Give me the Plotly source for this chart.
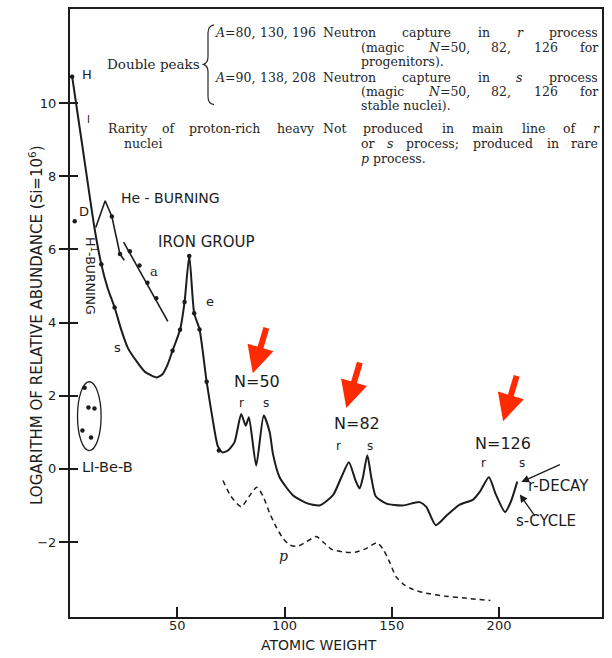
import re
import plotly.graph_objects as go

# ---- abundance data: log10 relative abundance (Si = 1e6) vs atomic weight A ----
main_a = [1.0, 6.0, 11.4, 14.6, 17.5, 20.8, 23.9, 27.0, 30.9, 35.0, 40.2, 43.0, 45.5,
          47.8, 51.3, 53.4, 55.6, 57.9, 60.4, 63.7, 66.6, 68.9, 71.0, 73.6, 76.7,
          79.8, 81.9, 83.4, 86.8, 90.3, 93.1, 94.6, 97.7, 103.9, 110.0, 116.4,
          122.6, 126.5, 130.0, 133.0, 135.0, 136.5, 138.6, 140.5, 142.5, 147.5,
          155.0, 163.0, 166.1, 170.5, 176.0, 181.7, 187.9, 191.0, 195.3, 198.5,
          202.8, 205.5, 208.5]
main_log = [10.72, 8.73, 6.59, 5.59, 4.95, 4.41, 3.80, 3.30, 2.95, 2.65, 2.50, 2.58, 2.85,
            3.23, 3.80, 4.56, 5.82, 4.25, 3.81, 2.38, 1.32, 0.62, 0.45, 0.50, 0.73,
            1.50, 1.18, 1.41, 0.09, 1.46, 1.00, 0.41, -0.23, -0.72, -0.93, -1.00,
            -0.72, -0.23, 0.18, -0.30, -0.54, -0.25, 0.37, -0.25, -0.75, -0.95,
            -1.00, -0.91, -1.04, -1.54, -1.25, -0.98, -0.84, -0.63, -0.23, -0.70,
            -1.18, -0.90, -0.35]

# measured points lying on the main curve
main_pts_a = [1.0, 14.6, 20.8, 47.8, 51.3, 53.4, 55.6, 57.9, 60.4, 63.7, 69.4]
main_pts_log = [10.72, 5.59, 4.41, 3.23, 3.80, 4.56, 5.82, 4.25, 3.81, 2.38, 0.50]

# deuterium
d_a = [2.2]
d_log = [6.77]

# helium-burning branch
he_a = [12.0, 16.4, 19.5, 23.3, 25.3]
he_log = [6.60, 7.33, 6.90, 5.87, 5.70]
he_pts_a = [19.5, 23.3]
he_pts_log = [6.90, 5.87]

# alpha-nuclei line and points
alpha_a = [25.0, 45.6]
alpha_log = [6.20, 4.03]
alpha_pts_a = [27.9, 32.4, 36.1, 40.2]
alpha_pts_log = [5.95, 5.56, 5.09, 4.66]

# proton-rich (p process) curve
p_a = [71.3, 75.0, 79.8, 83.5, 87.1, 90.0, 93.0, 96.2, 99.5, 102.4, 106.0, 110.0,
       114.8, 118.0, 122.0, 127.0, 133.0, 138.0, 143.2, 146.0, 149.0, 152.0,
       156.0, 160.0, 166.0, 175.0, 185.0, 196.0]
p_log = [-0.32, -0.75, -1.04, -0.75, -0.50, -0.75, -1.20, -1.60, -1.92, -2.08, -2.12,
         -2.00, -1.85, -2.00, -2.20, -2.27, -2.28, -2.18, -2.02, -2.20, -2.55, -2.95,
         -3.18, -3.30, -3.40, -3.48, -3.54, -3.60]

# Li, Be, B
libeb_a = [6.8, 8.6, 11.4, 5.8, 9.8]
libeb_log = [2.22, 1.68, 1.65, 1.05, 0.86]

x_ticks = [50, 100, 150, 200]
y_ticks = [-2, 0, 2, 4, 6, 8, 10]

# ---- page geometry ----
W, H = 612, 658
ML, MR, MT, MB = 70, 10, 7, 41
X_RANGE = [0, 248]
Y_RANGE = [-4.05, 12.57]
INK = "#1c1c1c"
SANS = "DejaVu Sans"
SERIF = "DejaVu Serif"


def px(x):
    return (x - ML) / (W - ML - MR)


def py(y):
    return (H - MB - y) / (H - MT - MB)


fig = go.Figure()

fig.add_trace(go.Scatter(x=main_a, y=main_log, mode="lines",
                         line=dict(color=INK, width=2, shape="spline", smoothing=0.6)))
fig.add_trace(go.Scatter(x=he_a, y=he_log, mode="lines", line=dict(color=INK, width=1.6)))
fig.add_trace(go.Scatter(x=alpha_a, y=alpha_log, mode="lines", line=dict(color=INK, width=1.6)))
fig.add_trace(go.Scatter(x=p_a, y=p_log, mode="lines",
                         line=dict(color=INK, width=1.5, dash="5px,4px", shape="spline", smoothing=0.6)))
dot = dict(color=INK, size=4.5)
for xs, ys in [(main_pts_a, main_pts_log), (d_a, d_log), (he_pts_a, he_pts_log),
               (alpha_pts_a, alpha_pts_log), (libeb_a, libeb_log)]:
    fig.add_trace(go.Scatter(x=xs, y=ys, mode="markers", marker=dot))
fig.add_trace(go.Scatter(x=[None], y=[None], yaxis="y2", showlegend=False))

# ellipse around the Li-Be-B points
fig.add_shape(type="circle", xref="x", yref="y",
              x0=min(libeb_a) - 2.3, x1=max(libeb_a) + 3.1,
              y0=min(libeb_log) - 0.36, y1=max(libeb_log) + 0.16,
              line=dict(color=INK, width=1.3))

ann = []


def label(text, x, y, size=14, font=SANS, angle=0, xanchor="center", color=INK):
    ann.append(dict(text=text, x=px(x), y=py(y), xref="paper", yref="paper",
                    showarrow=False, textangle=angle, xanchor=xanchor, yanchor="middle",
                    font=dict(family=font, size=size, color=color)))


# in-plot lettering
label("H", 87, 73, 13)
label("I", 88, 118, 10)
label("D", 84, 210, 13)
label("He - BURNING", 170, 197, 14)
label("IRON GROUP", 206, 241, 15)
label("H<sup>1</sup>-BURNING", 91, 275, 12.5, angle=90)
label("a", 154, 270, 13, font=SERIF)
label("e", 210, 300, 13)
label("s", 117, 347, 13)
label("LI-Be-B", 80, 467, 14.5, xanchor="left")
label("N=50", 257, 381, 16)
label("r", 241, 402, 12)
label("s", 266, 402, 12)
label("N=82", 357, 423, 16)
label("r", 338, 445, 12)
label("s", 370, 445, 12)
label("N=126", 503, 443, 16)
label("r", 483, 462, 12)
label("s", 522, 462, 12)
label("r-DECAY", 526, 486, 15, xanchor="left")
label("s-CYCLE", 514, 521, 15, xanchor="left")
label("<i>p</i>", 283, 556, 14, font=SERIF)

# axis titles
label("LOGARITHM OF RELATIVE ABUNDANCE (Si=10<sup>6</sup>)", 36, 324, 15, angle=-90)
label("ATOMIC WEIGHT", 319, 645, 14)

# ---- explanatory text block (justified columns) ----
SERIF_W = {
    "a": .596, "b": .640, "c": .560, "d": .640, "e": .592, "f": .370, "g": .640,
    "h": .644, "i": .320, "j": .310, "k": .600, "l": .320, "m": .948, "n": .644,
    "o": .602, "p": .640, "q": .640, "r": .478, "s": .513, "t": .402, "u": .644,
    "v": .565, "w": .856, "x": .564, "y": .565, "z": .527, "A": .722, "D": .771,
    "N": .782, "R": .712, "S": .648, ",": .318, ".": .318, "(": .390, ")": .390,
    "=": .838, " ": .318, "-": .338, ";": .337,
}
TSIZE = 12.5
TCOLOR = "#262626"


def text_w(s, size):
    s = re.sub(r"<[^>]+>", "", s)
    return sum(SERIF_W.get(ch, .636) for ch in s) * size * 1.03


def serif_word(text, x, y, size=TSIZE):
    ann.append(dict(text=text, x=px(x), y=py(y), xref="paper", yref="paper",
                    showarrow=False, xanchor="left", yanchor="middle", borderpad=0,
                    font=dict(family=SERIF, size=size, color=TCOLOR)))


def justify(words, x0, x1, y):
    widths = [text_w(w, TSIZE) for w in words]
    gap = (x1 - x0 - sum(widths)) / (len(words) - 1)
    x = x0
    for w, wd in zip(words, widths):
        serif_word(w, x, y)
        x += wd + gap


serif_word("Double peaks", 106, 62, 13.5)
justify(["<i>A</i>=80,", "130,", "196"], 214, 316, 31)
justify(["Neutron", "capture", "in", "<i>r</i>", "process"], 322, 598, 31)
justify(["(magic", "<i>N</i>=50,", "82,", "126", "for"], 360, 598, 46)
serif_word("progenitors).", 360, 60)
justify(["<i>A</i>=90,", "138,", "208"], 214, 316, 76)
justify(["Neutron", "capture", "in", "<i>s</i>", "process"], 322, 598, 76)
justify(["(magic", "<i>N</i>=50,", "82,", "126", "for"], 360, 598, 90)
serif_word("stable nuclei).", 360, 104)
justify(["Rarity", "of", "proton-rich", "heavy"], 107, 314, 127)
justify(["Not", "produced", "in", "main", "line", "of", "<i>r</i>"], 322, 598, 127)
serif_word("nuclei", 123, 142)
justify(["or", "<i>s</i>", "process;", "produced", "in", "rare"], 360, 598, 142)
serif_word("<i>p</i> process.", 360, 157)

# curly brace grouping the double peaks
bx = lambda v: px(v)
by = lambda v: py(v)
brace = (f"M{bx(214)},{by(23)} Q{bx(208)},{by(24)} {bx(208)},{by(31)} "
         f"L{bx(208)},{by(55)} Q{bx(208)},{by(61)} {bx(203.5)},{by(62.5)} "
         f"Q{bx(208)},{by(64)} {bx(208)},{by(70)} L{bx(208)},{by(95)} "
         f"Q{bx(208)},{by(102)} {bx(214)},{by(103)}")
fig.add_shape(type="path", xref="paper", yref="paper", path=brace,
              line=dict(color=TCOLOR, width=1.2))

# pointers for r-decay and s-cycle
ann.append(dict(x=210.4, y=-0.36, xref="x", yref="y", ax=40, ay=-18, text="",
                showarrow=True, arrowhead=2, arrowsize=1.2, arrowwidth=1.3,
                arrowcolor=INK, standoff=0))
ann.append(dict(x=209.7, y=-0.70, xref="x", yref="y", ax=16, ay=23, text="",
                showarrow=True, arrowhead=2, arrowsize=1.2, arrowwidth=1.3,
                arrowcolor=INK, standoff=0))

# red arrows marking the magic-number peaks
for xa, ya in [(85.2, 2.61), (128.8, 1.66), (201.9, 1.30)]:
    ann.append(dict(x=xa, y=ya, xref="x", yref="y", ax=14, ay=-47, text="",
                    showarrow=True, arrowhead=2, arrowsize=0.9, arrowwidth=6,
                    arrowcolor="#ff2a00", standoff=0))

fig.update_layout(
    width=W, height=H,
    margin=dict(l=ML, r=MR, t=MT, b=MB),
    paper_bgcolor="white", plot_bgcolor="white",
    showlegend=False,
    annotations=ann,
    xaxis=dict(range=X_RANGE, tickvals=x_ticks, ticks="inside", ticklen=10, tickwidth=1.5,
               tickcolor=INK, showline=True, linewidth=2, linecolor=INK, mirror=True,
               showgrid=False, zeroline=False, ticklabelstandoff=-5,
               tickfont=dict(family=SANS, size=13, color=INK)),
    yaxis=dict(range=Y_RANGE, tickvals=y_ticks, ticks="outside", ticklen=9, tickwidth=1.5,
               tickcolor=INK, showline=True, linewidth=2, linecolor=INK, mirror=True,
               showgrid=False, zeroline=False,
               tickfont=dict(family=SANS, size=13, color=INK)),
    yaxis2=dict(range=Y_RANGE, overlaying="y", anchor="x", side="left", tickvals=y_ticks,
                ticks="inside", ticklen=8, tickwidth=1.5, tickcolor=INK,
                showticklabels=False, showline=False, showgrid=False, zeroline=False),
)

fig.write_html("out.html")
